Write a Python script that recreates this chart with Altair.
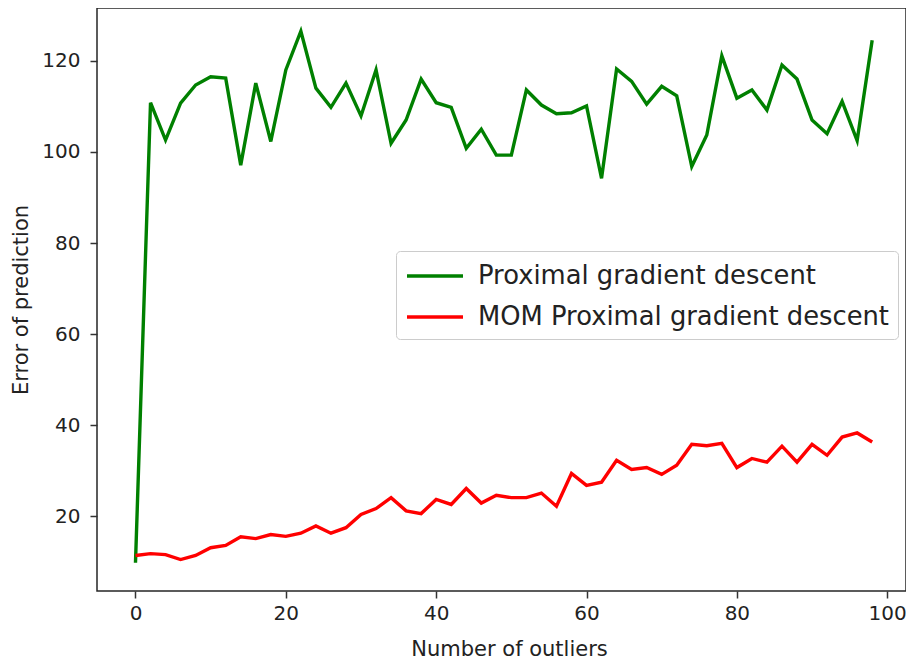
import altair as alt
import pandas as pd

x_vals = list(range(0, 100, 2))
proximal = [9.8, 110.8, 102.6, 110.7, 114.7, 116.5, 116.2, 97.1, 115.1, 102.3,
            118.0, 126.5, 114.0, 109.8, 115.1, 107.9, 118.0, 101.9, 107.0, 116.0,
            110.8, 109.8, 100.8, 105.0, 99.3, 99.3, 113.6, 110.3, 108.4, 108.6,
            110.1, 94.2, 118.2, 115.5, 110.5, 114.4, 112.3, 96.8, 103.7, 121.1,
            111.8, 113.6, 109.2, 119.1, 116.0, 107.0, 104.0, 111.1, 102.5, 124.5]
mom = [11.4, 11.8, 11.6, 10.5, 11.4, 13.1, 13.6, 15.5, 15.1, 16.0,
       15.6, 16.3, 17.9, 16.3, 17.5, 20.4, 21.7, 24.1, 21.2, 20.6,
       23.7, 22.6, 26.1, 22.9, 24.6, 24.1, 24.1, 25.1, 22.2, 29.4,
       26.8, 27.5, 32.3, 30.3, 30.7, 29.2, 31.2, 35.8, 35.5, 36.0,
       30.7, 32.7, 31.9, 35.4, 31.9, 35.8, 33.4, 37.4, 38.3, 36.3]
series_names = ["Proximal gradient descent", "MOM Proximal gradient descent"]
series_colors = ["#008000", "#ff0000"]
x_ticks = [0, 20, 40, 60, 80, 100]
y_ticks = [20, 40, 60, 80, 100, 120]

rows = []
for name, vals in zip(series_names, [proximal, mom]):
    for xv, yv in zip(x_vals, vals):
        rows.append({"x": xv, "y": yv, "series": name})
df = pd.DataFrame(rows)

chart = alt.Chart(df).mark_line(strokeWidth=3.4).encode(
    x=alt.X("x:Q",
            scale=alt.Scale(domain=[-5.12, 102.5], nice=False, zero=False),
            axis=alt.Axis(values=x_ticks, title="Number of outliers",
                          titleX=412, titleY=64, titleBaseline="alphabetic",
                          labelPadding=5)),
    y=alt.Y("y:Q",
            scale=alt.Scale(domain=[3.6, 131.6], nice=False, zero=False),
            axis=alt.Axis(values=y_ticks, title="Error of prediction",
                          titleX=-76, titleY=291.5, titleBaseline="middle",
                          titleAngle=270, labelPadding=10)),
    color=alt.Color("series:N",
                    scale=alt.Scale(domain=series_names, range=series_colors),
                    sort=series_names,
                    legend=alt.Legend(title=None, orient="none",
                                      legendX=299, legendY=243,
                                      symbolType="M-1,0H3", symbolSize=784,
                                      symbolStrokeWidth=3.4,
                                      symbolFillColor="transparent",
                                      labelFontSize=25.8, labelFont="DejaVu Sans",
                                      labelColor="#222222", labelLimit=800,
                                      labelOffset=41, rowPadding=12,
                                      padding=9, strokeColor="#cccccc",
                                      fillColor="white", cornerRadius=4)),
    order=alt.Order("x:Q"),
).properties(
    width=809, height=583,
    autosize=alt.AutoSizeParams(type="none"),
    padding={"left": 89, "top": 0, "right": 0, "bottom": 70},
).configure_view(
    stroke="#262626", strokeWidth=1.5
).configure_axis(
    grid=False, domain=False,
    labelFont="DejaVu Sans", labelFontSize=20, labelColor="#222222",
    titleFont="DejaVu Sans", titleFontSize=21, titleColor="#222222",
    titleFontWeight="normal",
    tickColor="#333333", tickWidth=1.5, tickSize=7,
)

chart.save("out.html", embed_options={"renderer": "svg", "actions": False})
